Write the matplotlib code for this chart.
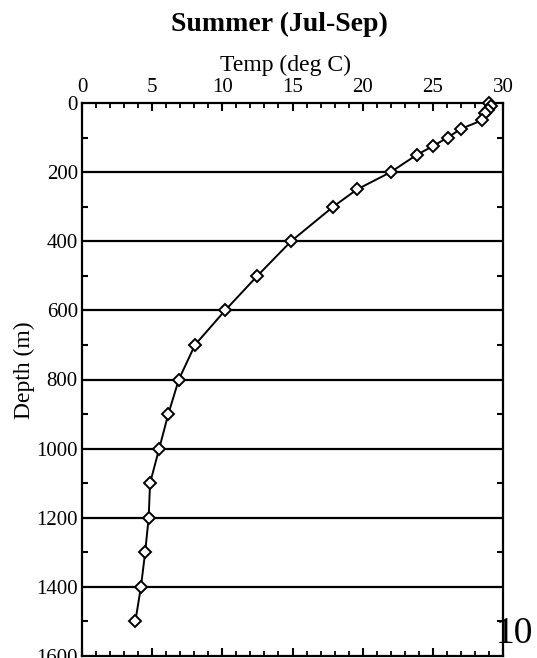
import numpy as np
import matplotlib
matplotlib.use('Agg')
import matplotlib.pyplot as plt
from matplotlib.ticker import MultipleLocator

# データ（夏季の水温プロファイル）
depth = [0, 10, 20, 30, 50, 75, 100, 125, 150, 200, 250, 300, 400, 500,
         600, 700, 800, 900, 1000, 1100, 1200, 1300, 1400, 1500]
temp = [29.0, 29.15, 28.9, 28.7, 28.5, 27.0, 26.05, 25.0, 23.85, 22.0,
        19.6, 17.9, 14.9, 12.5, 10.2, 8.05, 6.9, 6.15, 5.5, 4.85,
        4.75, 4.5, 4.2, 3.8]
grid_depths = [200, 400, 600, 800, 1000, 1200, 1400]

plt.rcParams['font.family'] = ['Liberation Serif', 'DejaVu Serif']

fig = plt.figure(figsize=(5.37, 6.58), dpi=100)
ax = fig.add_axes([82/537, 1-656/658, 421/537, 553/658])

# 水平のグリッド線
for d in grid_depths:
    ax.axhline(d, color='black', lw=1.6, zorder=1)

ax.plot(temp, depth, color='black', lw=1.4, marker='D', ms=6.5,
        mfc='white', mec='black', mew=1.4, zorder=3, clip_on=False)

ax.set_xlim(0, 30)
ax.set_ylim(1600, 0)
ax.xaxis.set_major_locator(MultipleLocator(5))
ax.xaxis.set_minor_locator(MultipleLocator(1))
ax.yaxis.set_major_locator(MultipleLocator(200))
ax.yaxis.set_minor_locator(MultipleLocator(100))

ax.xaxis.tick_top()
ax.xaxis.set_label_position('top')
ax.tick_params(axis='x', which='both', direction='in', top=True, bottom=True,
               labeltop=True, labelbottom=False, labelsize=15, pad=4)
ax.tick_params(axis='x', which='major', length=6, width=1.5)
ax.tick_params(axis='x', which='minor', length=3.5, width=1.3)
ax.tick_params(axis='y', which='both', direction='in', left=True, right=True,
               labelsize=15, pad=3)
ax.tick_params(axis='y', which='major', length=0)
ax.tick_params(axis='y', which='minor', length=4, width=1.5)

for s in ax.spines.values():
    s.set_linewidth(1.6)

ax.set_xlabel('Temp (deg C)', fontsize=17, labelpad=5, x=(285-82)/421)
ax.set_ylabel('Depth (m)', fontsize=17, labelpad=1, y=(656-370)/553)

fig.text(279/537, 1-24/658, 'Summer (Jul-Sep)', ha='center', va='center',
         fontsize=20, fontweight='bold')
fig.text(514/537, 1-634/658, '10', ha='center', va='center', fontsize=27)

fig.savefig('out.png', dpi=100)
